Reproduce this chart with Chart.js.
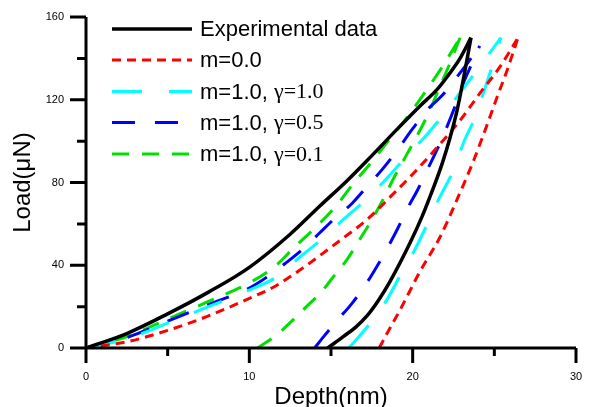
<!DOCTYPE html>
<html>
<head>
<meta charset="utf-8">
<script src="https://cdn.jsdelivr.net/npm/chart.js@4/dist/chart.umd.min.js"></script>
<style>
  body { margin: 0; background: #fff; }
  #box { width: 591px; height: 407px; }
</style>
</head>
<body>
<div id="box"><canvas id="chart"></canvas></div>
<script>
// loading ("up") and unloading ("down") branches, depth in nm, load in uN
const expUpDepth = [0, 2.5, 5, 7.5, 10, 12.5, 14.3, 16, 17.5, 19.2, 20.45, 21.5, 22.1, 22.9, 23.57];
const expUpLoad = [0, 7, 16.5, 27, 39, 55, 68.5, 81, 93, 107, 117, 125, 131, 140, 150];
const expDownDepth = [14.8, 15.75, 16.5, 17.2, 17.9, 18.6, 19.85, 20.6, 21.25, 21.8, 22.3, 22.75, 23.2, 23.57];
const expDownLoad = [0, 5.5, 10, 15.5, 23, 32, 51, 64, 77, 89, 102, 116, 134, 150];

const m0UpDepth = [0, 2.5, 5, 7.5, 10, 11.5, 13.1, 15.55, 17.2, 19, 20, 21.5, 22.8, 24.2, 25.35, 26.45];
const m0UpLoad = [0, 3, 8.5, 15.5, 24, 29.5, 37.7, 52, 62, 76, 84, 97, 109, 124, 136, 150];
const m0DownDepth = [17.95, 18.6, 19.2, 20.45, 21.7, 22.7, 23.7, 24.7, 25.2, 25.75, 26.45];
const m0DownLoad = [0, 9.5, 18, 37, 54, 71.5, 90, 111, 122, 133.5, 150];

const g10UpDepth = [0, 2.5, 5, 7.5, 10, 11.7, 13.1, 14.5, 15.75, 17.1, 18.3, 19.6, 20.85, 21.9, 23.1, 24.1, 25.4];
const g10UpLoad = [0, 4.5, 12, 20, 28, 34.5, 44, 53, 62, 71.5, 81, 92.5, 103, 113, 125.5, 136, 150];
const g10DownDepth = [16.1, 17.3, 18.4, 19.2, 20.1, 20.9, 21.6, 22.5, 23.1, 23.85, 24.4, 24.9, 25.4];
const g10DownLoad = [0, 11, 23, 34.5, 47, 60, 72, 86, 99, 112, 125, 137, 150];

const g05UpDepth = [0, 2.5, 5, 7.5, 10, 11.3, 12.3, 13.3, 14.3, 15.25, 16.3, 17.2, 18.1, 19, 20, 21, 21.8, 22.5, 23.2, 24.1];
const g05UpLoad = [0, 5, 13, 21, 29, 35.5, 41.5, 48, 55.6, 62.8, 70, 78, 86, 95, 106, 116, 122, 129, 136, 146];
const g05DownDepth = [14, 14.5, 15.4, 16.3, 17.1, 17.8, 18.5, 19.1, 19.7, 20.3, 20.95, 21.5, 22, 22.6, 23.1, 23.6, 24.1];
const g05DownLoad = [0, 5, 13.5, 21.7, 30.4, 39.3, 49, 58, 67.7, 76.4, 87, 96, 105, 117, 128, 137, 146];

const g01UpDepth = [0, 2.5, 5, 7.5, 10, 11.5, 12.8, 14.1, 15.35, 16.3, 17.6, 18.7, 19.8, 20.85, 21.9, 22.9];
const g01UpLoad = [0, 5.5, 14, 22.5, 31.5, 39, 49, 58.6, 69, 78.8, 91, 102, 113, 124.7, 137, 150];
const g01DownDepth = [10.5, 11.7, 12.6, 13.5, 14.4, 15.2, 16, 16.8, 17.5, 18.2, 18.9, 19.6, 20.3, 21, 21.7, 22.3, 22.9];
const g01DownLoad = [0, 6.5, 13, 20, 27, 35, 43, 53, 62, 72, 83, 93, 103, 114, 127, 138, 150];

const legendMain = ["Experimental data", "m=0.0", "m=1.0, ", "m=1.0, ", "m=1.0, "];
const legendGamma = ["", "", "\u03b3=1.0", "\u03b3=0.5", "\u03b3=0.1"];

const xTicks = [0, 10, 20, 30];
const xMinor = [5, 15, 25];
const yTicks = [0, 40, 80, 120, 160];
const yMinor = [20, 60, 100, 140];

const styles = [
  { color: "#000000", width: 3.5, dash: [] },
  { color: "#ff0000", width: 3, dash: [9, 6] },
  { color: "#00ffff", width: 3, dash: [30, 27] },
  { color: "#0000ff", width: 3, dash: [23, 20] },
  { color: "#00e000", width: 3, dash: [17, 13] }
];

function pts(xs, ys) {
  return xs.map((x, i) => ({ x: x, y: ys[i] }));
}

const branches = [
  [expUpDepth, expUpLoad, expDownDepth, expDownLoad],
  [m0UpDepth, m0UpLoad, m0DownDepth, m0DownLoad],
  [g10UpDepth, g10UpLoad, g10DownDepth, g10DownLoad],
  [g05UpDepth, g05UpLoad, g05DownDepth, g05DownLoad],
  [g01UpDepth, g01UpLoad, g01DownDepth, g01DownLoad]
];

const datasets = [];
branches.forEach((b, i) => {
  const s = styles[i];
  [pts(b[0], b[1]), pts(b[2], b[3])].forEach(data => {
    datasets.push({
      label: legendMain[i] + legendGamma[i],
      data: data,
      borderColor: s.color,
      borderWidth: s.width,
      borderDash: s.dash,
      borderCapStyle: "butt",
      pointRadius: 0,
      fill: false,
      cubicInterpolationMode: "monotone"
    });
  });
});

const FONT = "Arial, 'Liberation Sans', sans-serif";

const axesPlugin = {
  id: "axesPlugin",
  afterDraw(chart) {
    const ctx = chart.ctx;
    const xs = chart.scales.x, ys = chart.scales.y;
    const x0 = xs.getPixelForValue(0), y0 = ys.getPixelForValue(0);
    ctx.save();
    ctx.strokeStyle = "#000";
    ctx.lineWidth = 3;
    ctx.lineCap = "butt";
    ctx.beginPath();
    ctx.moveTo(x0, ys.getPixelForValue(160));
    ctx.lineTo(x0, y0);
    ctx.moveTo(x0, y0);
    ctx.lineTo(xs.getPixelForValue(30), y0);
    xTicks.forEach(v => { const p = xs.getPixelForValue(v); ctx.moveTo(p, y0); ctx.lineTo(p, y0 + 15); });
    xMinor.forEach(v => { const p = xs.getPixelForValue(v); ctx.moveTo(p, y0); ctx.lineTo(p, y0 + 8); });
    yTicks.forEach(v => { const p = ys.getPixelForValue(v); ctx.moveTo(x0, p); ctx.lineTo(x0 - 16, p); });
    yMinor.forEach(v => { const p = ys.getPixelForValue(v); ctx.moveTo(x0, p); ctx.lineTo(x0 - 9, p); });
    ctx.stroke();

    // tick labels
    ctx.fillStyle = "#000";
    ctx.font = "11px " + FONT;
    ctx.textBaseline = "middle";
    ctx.textAlign = "center";
    xTicks.forEach(v => ctx.fillText(String(v), xs.getPixelForValue(v), y0 + 29));
    ctx.textAlign = "right";
    yTicks.forEach(v => ctx.fillText(String(v), x0 - 22, ys.getPixelForValue(v)));

    // legend
    const rowY = [29, 60, 91.5, 122.5, 154];
    styles.forEach((s, i) => {
      const y = rowY[i];
      ctx.strokeStyle = s.color;
      ctx.lineWidth = s.width;
      ctx.setLineDash(s.dash);
      ctx.beginPath();
      ctx.moveTo(112, y);
      ctx.lineTo(192, y);
      ctx.stroke();
      ctx.setLineDash([]);
      ctx.fillStyle = "#000";
      ctx.textBaseline = "middle";
      ctx.textAlign = "left";
      ctx.font = "22px " + FONT;
      ctx.fillText(legendMain[i], 200, y + 1);
      if (legendGamma[i]) {
        const w = ctx.measureText(legendMain[i]).width;
        ctx.font = "22px 'Times New Roman', 'Liberation Serif', serif";
        ctx.fillText(legendGamma[i], 200 + w, y + 1);
      }
    });
    ctx.restore();
  }
};

new Chart(document.getElementById("chart"), {
  type: "line",
  data: { datasets: datasets },
  options: {
    responsive: true,
    maintainAspectRatio: false,
    animation: false,
    layout: { padding: { top: 17, right: 15, left: 0, bottom: 0 } },
    plugins: { legend: { display: false }, tooltip: { enabled: false } },
    scales: {
      x: {
        type: "linear",
        min: 0,
        max: 30,
        afterFit(scale) { scale.height = 59; },
        grid: { display: false, drawTicks: false },
        border: { display: false },
        ticks: { display: false },
        title: {
          display: true,
          text: "Depth(nm)",
          color: "#000",
          font: { size: 24, family: FONT, lineHeight: 0.8 },
          padding: { top: 0, bottom: 0 }
        }
      },
      y: {
        type: "linear",
        min: 0,
        max: 160,
        afterFit(scale) { scale.width = 86; },
        grid: { display: false, drawTicks: false },
        border: { display: false },
        ticks: { display: false },
        title: {
          display: true,
          text: "Load(\u03bcN)",
          color: "#000",
          font: { size: 24, family: FONT, lineHeight: 1.2 },
          padding: { top: 9, bottom: 0 }
        }
      }
    }
  },
  plugins: [axesPlugin]
});
</script>
</body>
</html>
